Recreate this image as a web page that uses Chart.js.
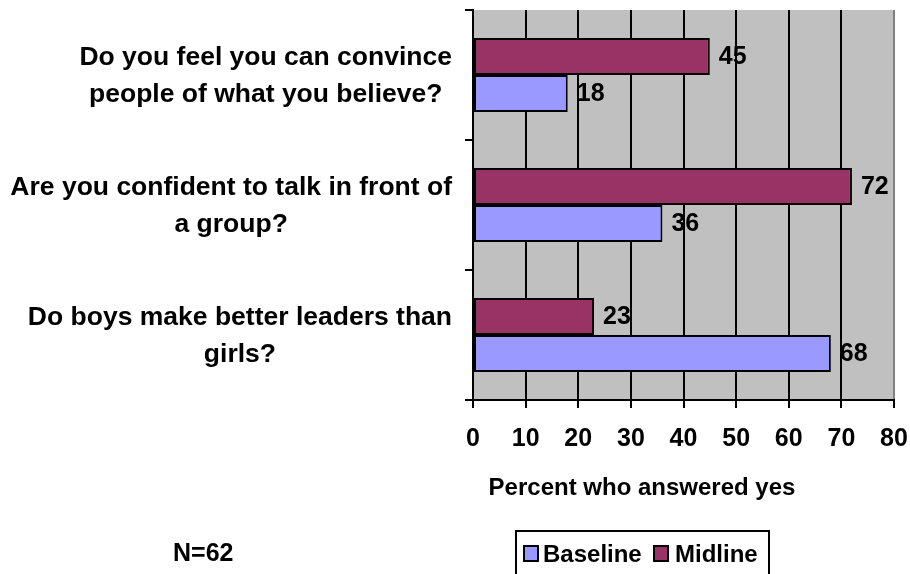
<!DOCTYPE html>
<html>
<head>
<meta charset="utf-8">
<title>Percent who answered yes</title>
<script src="https://cdn.jsdelivr.net/npm/chart.js@4/dist/chart.umd.min.js"></script>
<style>
  body { margin: 0; background: #fff; }
  #wrap { position: relative; width: 910px; height: 574px; overflow: hidden; font-family: "Liberation Sans", Arial, sans-serif; font-weight: bold; color: #000; }
  #chart { position: absolute; left: 0; top: 0; }
  .txt { position: absolute; white-space: nowrap; line-height: 28px; }
  #xTitle { left: 642px; top: 473px; font-size: 24px; transform: translateX(-50%); }
  #nNote { left: 173px; top: 538px; font-size: 25px; }
  #legend { position: absolute; left: 515px; top: 530px; width: 251px; height: 60px; border: 2px solid #000; }
  #legend .sw { position: absolute; top: 13px; width: 12px; height: 13px; border: 2px solid #000; }
  #legend .lb { position: absolute; top: 8px; font-size: 24px; line-height: 28px; }
</style>
</head>
<body>
<div id="wrap">
  <canvas id="chart" width="910" height="574"></canvas>
  <div class="txt" id="xTitle"></div>
  <div class="txt" id="nNote"></div>
  <div id="legend"></div>
</div>
<script>
// survey questions, one row each (lines as they wrap)
const categories = [
  ['Do you feel you can convince', 'people of what you believe?'],
  ['Are you confident to talk in front of', 'a group?'],
  ['Do boys make better leaders than', 'girls?'],
];
const midline = [45, 72, 23];
const baseline = [18, 36, 68];
const xTicks = [0, 10, 20, 30, 40, 50, 60, 70, 80];
const xTitle = 'Percent who answered yes';
const sampleNote = 'N=62';

const FONT = '"Liberation Sans", Arial, sans-serif';
const COLORS = { midline: '#993366', baseline: '#9999FF' };

// gray plot background
const plotBg = {
  id: 'plotBg',
  beforeDraw(chart) {
    const { ctx, chartArea: a } = chart;
    ctx.save();
    ctx.fillStyle = '#C0C0C0';
    ctx.fillRect(a.left, a.top, a.right - a.left, a.bottom - a.top);
    ctx.restore();
  },
};

// values after each bar end
const barValues = {
  id: 'barValues',
  afterDatasetsDraw(chart) {
    const { ctx } = chart;
    ctx.save();
    ctx.font = `bold 25px ${FONT}`;
    ctx.fillStyle = '#000';
    ctx.textAlign = 'left';
    ctx.textBaseline = 'middle';
    chart.data.datasets.forEach((ds, d) => {
      chart.getDatasetMeta(d).data.forEach((bar, i) => {
        ctx.fillText(String(ds.data[i]), bar.x + 9, bar.y + 1);
      });
    });
    ctx.restore();
  },
};

// question labels: block right-aligned to the axis, lines centered inside it
const questionLabels = {
  id: 'questionLabels',
  afterDraw(chart) {
    const { ctx } = chart;
    const y = chart.scales.y;
    const right = y.right - 21;
    const lh = 37;
    ctx.save();
    ctx.font = `bold 26.5px ${FONT}`;
    ctx.fillStyle = '#000';
    ctx.textAlign = 'center';
    ctx.textBaseline = 'middle';
    categories.forEach((lines, i) => {
      const cy = y.getPixelForTick(i);
      const w = Math.max(...lines.map((l) => ctx.measureText(l).width));
      const cx = right - w / 2;
      lines.forEach((l, j) => ctx.fillText(l, cx, cy + (j - (lines.length - 1) / 2) * lh + 1));
    });
    ctx.restore();
  },
};

const chart = new Chart(document.getElementById('chart'), {
  type: 'bar',
  data: {
    labels: categories,
    datasets: [
      { label: 'Midline', data: midline, backgroundColor: COLORS.midline },
      { label: 'Baseline', data: baseline, backgroundColor: COLORS.baseline },
    ],
  },
  options: {
    indexAxis: 'y',
    responsive: false,
    animation: false,
    layout: { padding: { top: 10, right: 16, left: 0, bottom: 0 } },
    datasets: {
      bar: { borderColor: '#000', borderWidth: 2, borderSkipped: false, categoryPercentage: 0.57, barPercentage: 1 },
    },
    plugins: { legend: { display: false }, tooltip: { enabled: false } },
    scales: {
      x: {
        min: 0,
        max: 80,
        afterBuildTicks: (s) => { s.ticks = xTicks.map((v) => ({ value: v })); },
        afterFit: (s) => { s.height = 174; s.paddingLeft = 0; s.paddingRight = 0; },
        ticks: { color: '#000', font: { family: FONT, size: 25, weight: 'bold' }, padding: 16, maxRotation: 0 },
        grid: {
          color: (c) => (c.index === xTicks.length - 1 ? '#808080' : '#000'),
          tickColor: '#000',
          lineWidth: 2,
          tickLength: 8,
        },
        border: { color: '#000', width: 2 },
      },
      y: {
        afterFit: (s) => { s.width = 473; s.paddingTop = 0; s.paddingBottom = 0; },
        ticks: { display: false },
        grid: { offset: true, drawOnChartArea: false, color: '#000', lineWidth: 2, tickLength: 8 },
        border: { color: '#000', width: 2 },
      },
    },
  },
  plugins: [plotBg, barValues, questionLabels],
});

document.getElementById('xTitle').textContent = xTitle;
document.getElementById('nNote').textContent = sampleNote;

// legend in Baseline, Midline order
const legendPos = { Baseline: [6, 26], Midline: [136, 158] };
const legend = document.getElementById('legend');
chart.data.datasets.slice().reverse().forEach((ds) => {
  const [sx, tx] = legendPos[ds.label];
  const sw = document.createElement('div');
  sw.className = 'sw';
  sw.style.left = sx + 'px';
  sw.style.background = ds.backgroundColor;
  const lb = document.createElement('div');
  lb.className = 'lb';
  lb.style.left = tx + 'px';
  lb.textContent = ds.label;
  legend.append(sw, lb);
});
</script>
</body>
</html>
